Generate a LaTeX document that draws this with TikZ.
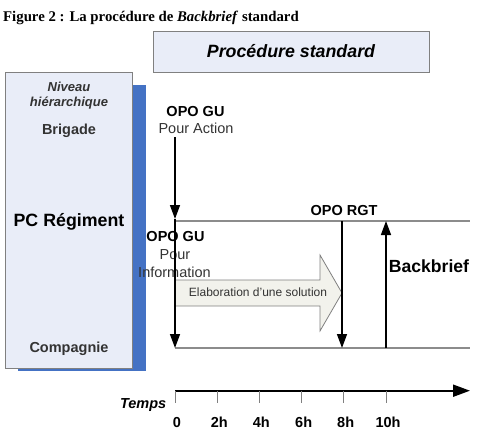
\documentclass[tikz,border=0pt]{standalone}
\usepackage{fontspec}
\setmainfont{Liberation Sans}
\newfontfamily\capfont{Liberation Serif}
\usetikzlibrary{arrows.meta}
\definecolor{boxblue}{HTML}{E9EDF8}
\definecolor{shadowblue}{HTML}{4472C4}
\definecolor{arrowfill}{HTML}{F2F2EC}
\definecolor{txtgray}{HTML}{333333}
\definecolor{linegray}{HTML}{8C8C8C}
\begin{document}
\begin{tikzpicture}[x=1pt,y=-1pt,
  lbl/.style={inner sep=0pt, anchor=base, font=\fontsize{14.5}{17}\selectfont},
  blbl/.style={inner sep=0pt, anchor=base, font=\fontsize{14.5}{17}\selectfont\bfseries},
  arr/.style={line width=1.5pt, -{Triangle[length=14pt,width=10pt]}},
  hline/.style={draw=linegray, line width=1.2pt},
  tick/.style={draw=gray, line width=1pt}]
\useasboundingbox (0,0) rectangle (480,434);
% caption
\node[inner sep=0pt, anchor=base west, font=\capfont\fontsize{14.8}{17}\selectfont\bfseries] (cap) at (3,21) {Figure 2 : La procédure de \textit{Backbrief} standard};
% top box
\node[draw=gray, fill=boxblue, line width=0.8pt, minimum width=276pt, minimum height=41pt, inner sep=0pt] (top) at (291,51.5) {};
\node[inner sep=0pt, anchor=base, font=\fontsize{17.8}{20}\selectfont\bfseries\itshape] (toptxt) at (291,57.5) {Procédure standard};
% left box with shadow
\fill[shadowblue] (18,85) rectangle (146,371);
\node[draw=gray, fill=boxblue, line width=0.8pt, minimum width=127pt, minimum height=296pt, inner sep=0pt] (lvl) at (68.5,220) {};
\node[inner sep=0pt, anchor=base, text=txtgray, font=\fontsize{13}{15}\selectfont\bfseries\itshape] (niv1) at (69,91.7) {Niveau};
\node[inner sep=0pt, anchor=base, text=txtgray, font=\fontsize{13}{15}\selectfont\bfseries\itshape] (niv2) at (69,106.5) {hiérarchique};
\node[blbl, text=txtgray] (brig) at (69,134) {Brigade};
\node[inner sep=0pt, anchor=base, font=\fontsize{17.8}{20}\selectfont\bfseries] (pcr) at (69,226) {PC Régiment};
\node[blbl, text=txtgray] (comp) at (69,352.2) {Compagnie};
% coordinates
\coordinate (a0) at (175,137);
\coordinate (a1) at (175,219);
\coordinate (a2) at (175,348);
\coordinate (t1) at (175,221);
\coordinate (t2) at (470,221);
\coordinate (b1) at (175,348);
\coordinate (b2) at (470,348);
\coordinate (r0) at (342,221);
\coordinate (r1) at (342,348);
\coordinate (u0) at (386,348);
\coordinate (u1) at (386,221);
% horizontal lines
\draw[hline] (t1) -- (t2);
\draw[hline] (b1) -- (b2);
% block arrow
\draw[draw=gray, fill=arrowfill, line width=0.8pt] (175,280) -- (320,280) -- (320,255) -- (342,293) -- (320,331) -- (320,306) -- (175,306) -- cycle;
\node[inner sep=0pt, anchor=base, text=txtgray, font=\fontsize{12}{14}\selectfont] (elab) at (258,296.5) {Elaboration d’une solution};
% labels
\node[blbl] (opo1) at (195.5,116) {OPO GU};
\node[lbl, text=txtgray] (pa) at (196,133.5) {Pour Action};
\node[blbl] (opo2) at (175.5,241) {OPO GU};
\node[lbl, text=txtgray] (pour) at (175,259.5) {Pour};
\node[lbl, text=txtgray] (info) at (174.5,277) {Information};
\node[blbl] (rgt) at (344,215) {OPO RGT};
\node[inner sep=0pt, anchor=base, font=\fontsize{17.6}{20}\selectfont\bfseries] (bb) at (429,272.5) {Backbrief};
% vertical arrows
\draw[arr] (a0) -- (a1);
\draw[arr] (a1) -- (a2);
\draw[arr] (r0) -- (r1);
\draw[arr] (u0) -- (u1);
% time axis
\coordinate (x0) at (175,390.7);
\coordinate (x1) at (470,390.7);
\draw[line width=2pt, -{Triangle[length=17pt,width=12pt]}] (x0) -- (x1);
\foreach \xx/\lab/\nm in {175/0/l0, 217.3/2h/l2, 259.3/4h/l4, 301.7/6h/l6, 343.7/8h/l8, 386/10h/l10}{
  \coordinate (tk\nm) at (\xx,390.7);
  \coordinate (tb\nm) at (\xx,402.7);
  \draw[tick] (tk\nm) -- (tb\nm);
  \node[blbl] (\nm) at (\xx+2,427) {\lab};
}
\node[inner sep=0pt, anchor=base east, font=\fontsize{14.5}{17}\selectfont\bfseries\itshape] (temps) at (166.5,408) {Temps};
\end{tikzpicture}
\end{document}
